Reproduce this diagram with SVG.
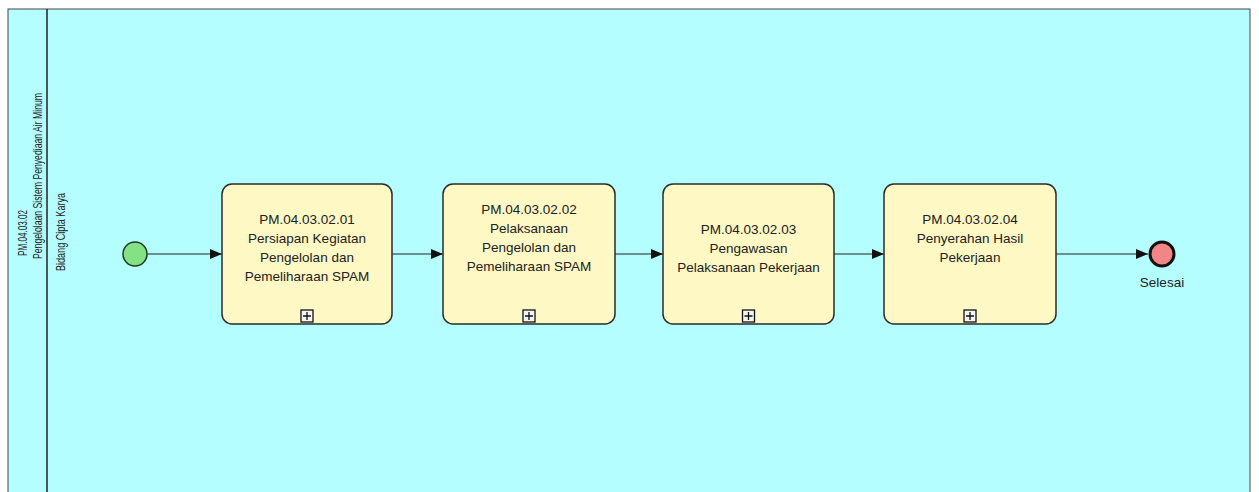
<svg xmlns="http://www.w3.org/2000/svg" width="1259" height="492" viewBox="0 0 1259 492">
<defs>
<style>
.lbl{font-family:"Liberation Sans",Arial,sans-serif;font-size:13.5px;fill:#222;text-anchor:middle}
.rot{font-family:"Liberation Sans",Arial,sans-serif;font-size:13.5px;fill:#222;text-anchor:middle}
.task{fill:#fdf8c4;stroke:#2b2b2b;stroke-width:1.5}
.flow{stroke:#222;stroke-width:1.2;fill:none;marker-end:url(#arr)}
.exp{fill:#f4f4f4;stroke:#111;stroke-width:1.3}
.plus{stroke:#111;stroke-width:1.3}
</style>
<marker id="arr" viewBox="0 0 12 10" refX="12" refY="5" markerWidth="12" markerHeight="10" markerUnits="userSpaceOnUse" orient="auto">
<path d="M0,0 L12,5 L0,10 z" fill="#111"/>
</marker>
</defs>
<g id="pool">
<rect x="8" y="9" width="1242" height="495" fill="#b5feff" stroke="#444" stroke-width="1"/>
<line x1="47" y1="9" x2="47" y2="492" stroke="#222" stroke-width="1.5"/>
<text class="rot" transform="translate(27,233) rotate(-90)" textLength="46" lengthAdjust="spacingAndGlyphs">PM.04.03.02</text>
<text class="rot" transform="translate(42,176) rotate(-90)" textLength="166" lengthAdjust="spacingAndGlyphs">Pengelolaan Sistem Penyediaan Air Minum</text>
<text class="rot" transform="translate(65,232) rotate(-90)" textLength="78" lengthAdjust="spacingAndGlyphs">Bidang Cipta Karya</text>
</g>
<g id="connectors">
<line class="flow" x1="147" y1="254" x2="222" y2="254"/>
<line class="flow" x1="392" y1="254" x2="443" y2="254"/>
<line class="flow" x1="615" y1="254" x2="663" y2="254"/>
<line class="flow" x1="834" y1="254" x2="884" y2="254"/>
<line class="flow" x1="1056" y1="254" x2="1148" y2="254"/>
</g>
<g id="start">
<circle cx="135" cy="254" r="12" fill="#84e184" stroke="#1f3a1f" stroke-width="1.5"/>
</g>
<g id="task1">
<rect class="task" x="222" y="184" width="170" height="140" rx="10"/>
<text class="lbl" x="307" y="224">PM.04.03.02.01</text>
<text class="lbl" x="307" y="243">Persiapan Kegiatan</text>
<text class="lbl" x="307" y="262">Pengelolan dan</text>
<text class="lbl" x="307" y="281">Pemeliharaan SPAM</text>
<rect class="exp" x="301" y="310" width="12" height="12"/>
<path class="plus" d="M303,316 H311 M307,312 V320"/>
</g>
<g id="task2">
<rect class="task" x="443" y="184" width="172" height="140" rx="10"/>
<text class="lbl" x="529" y="214">PM.04.03.02.02</text>
<text class="lbl" x="529" y="233">Pelaksanaan</text>
<text class="lbl" x="529" y="252">Pengelolan dan</text>
<text class="lbl" x="529" y="271">Pemeliharaan SPAM</text>
<rect class="exp" x="523" y="310" width="12" height="12"/>
<path class="plus" d="M525,316 H533 M529,312 V320"/>
</g>
<g id="task3">
<rect class="task" x="663" y="184" width="171" height="140" rx="10"/>
<text class="lbl" x="748.5" y="234">PM.04.03.02.03</text>
<text class="lbl" x="748.5" y="253">Pengawasan</text>
<text class="lbl" x="748.5" y="272">Pelaksanaan Pekerjaan</text>
<rect class="exp" x="742.5" y="310" width="12" height="12"/>
<path class="plus" d="M744.5,316 H752.5 M748.5,312 V320"/>
</g>
<g id="task4">
<rect class="task" x="884" y="184" width="172" height="140" rx="10"/>
<text class="lbl" x="970" y="224">PM.04.03.02.04</text>
<text class="lbl" x="970" y="243">Penyerahan Hasil</text>
<text class="lbl" x="970" y="262">Pekerjaan</text>
<rect class="exp" x="964" y="310" width="12" height="12"/>
<path class="plus" d="M966,316 H974 M970,312 V320"/>
</g>
<g id="end">
<circle cx="1162" cy="254" r="12" fill="#f28585" stroke="#111" stroke-width="3"/>
<text class="lbl" x="1162" y="287">Selesai</text>
</g>
</svg>
